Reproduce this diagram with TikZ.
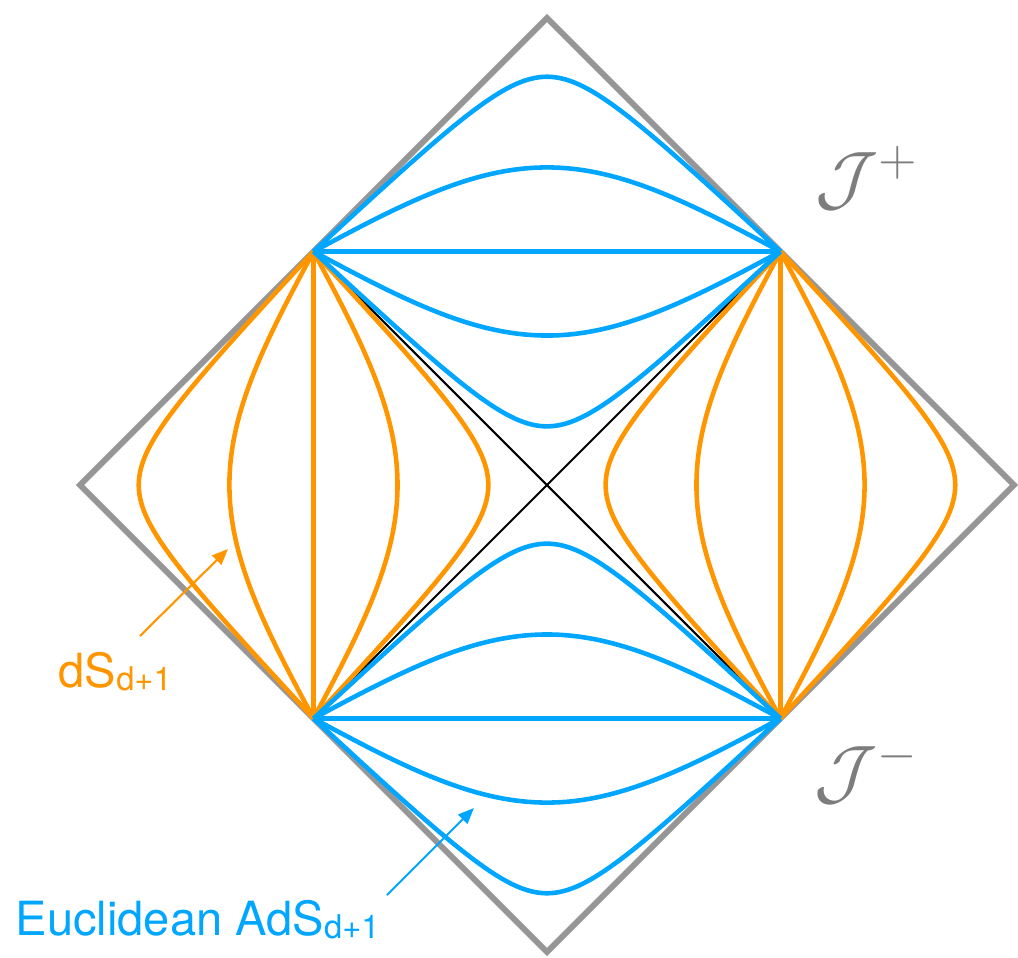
\documentclass[tikz,border=0pt]{standalone}
\usepackage{fontspec}
\usetikzlibrary{arrows.meta}
\newfontfamily\labelfont{TeX Gyre Heros}
\definecolor{bgray}{RGB}{150,150,150}
\definecolor{jgray}{RGB}{125,125,125}
\definecolor{adsblue}{RGB}{0,166,255}
\definecolor{dsorange}{RGB}{255,150,0}
\begin{document}
\begin{tikzpicture}[>={Triangle[length=1.6mm,width=1.3mm]},
    bdry/.style={draw=bgray,line width=1.7pt},
    ads/.style={draw=adsblue,line width=1.3pt},
    ds/.style={draw=dsorange,line width=1.3pt},
    scri/.style={text=jgray,font=\fontsize{22}{26}\selectfont},
    lbl/.style={anchor=base west,inner sep=0pt,font=\labelfont\fontsize{13.4}{16}\selectfont}]
    \useasboundingbox (-5.47,-4.72) rectangle (4.71,4.85);
    \coordinate (top) at (0,4.67);
    \coordinate (left) at (-4.67,0);
    \coordinate (right) at (4.67,0);
    \coordinate (bot) at (0,-4.67);
    \coordinate (ul) at (-2.335,2.335);
    \coordinate (ur) at (2.335,2.335);
    \coordinate (ll) at (-2.335,-2.335);
    \coordinate (lr) at (2.335,-2.335);
    \draw[bdry] (top) -- (right) -- (bot) -- (left) -- cycle;
    \draw[line width=0.6pt] (ul) -- (lr);
    \draw[line width=0.6pt] (ur) -- (ll);
    \foreach \k in {0.2,0.55,1,1.82,5} {
        \draw[ds] plot[domain=0:90,samples=181,variable=\u]
            ({-0.025944*(atan2(\k*sin(\u),cos(\u))+atan2(\k*cos(\u),sin(\u)))},
             {0.025944*(atan2(\k*sin(\u),cos(\u))-atan2(\k*cos(\u),sin(\u)))});
        \draw[ds] plot[domain=0:90,samples=181,variable=\u]
            ({0.025944*(atan2(\k*sin(\u),cos(\u))+atan2(\k*cos(\u),sin(\u)))},
             {0.025944*(atan2(\k*sin(\u),cos(\u))-atan2(\k*cos(\u),sin(\u)))});
    }
    \foreach \k in {0.2,0.55,1,1.82,5} {
        \draw[ads] plot[domain=0:90,samples=181,variable=\u]
            ({0.025944*(atan2(\k*sin(\u),cos(\u))-atan2(\k*cos(\u),sin(\u)))},
             {0.025944*(atan2(\k*sin(\u),cos(\u))+atan2(\k*cos(\u),sin(\u)))});
        \draw[ads] plot[domain=0:90,samples=181,variable=\u]
            ({0.025944*(atan2(\k*sin(\u),cos(\u))-atan2(\k*cos(\u),sin(\u)))},
             {-0.025944*(atan2(\k*sin(\u),cos(\u))+atan2(\k*cos(\u),sin(\u)))});
    }
    \node[scri] (jplus) at (3.20,3.07) {$\mathcal{J}^+$};
    \node[scri] (jminus) at (3.20,-2.87) {$\mathcal{J}^-$};
    \node[lbl,text=dsorange] (dslabel) at (-4.89,-2.02)
        {dS\raisebox{-0.03cm}{\fontsize{9.3}{11}\selectfont d+1}};
    \node[lbl,text=adsblue] (adslabel) at (-5.32,-4.50)
        {Euclidean AdS\raisebox{-0.03cm}{\fontsize{9.3}{11}\selectfont d+1}};
    \coordinate (dstail) at (-4.07,-1.51);
    \coordinate (dstip) at (-3.19,-0.64);
    \coordinate (adstail) at (-1.60,-4.10);
    \coordinate (adstip) at (-0.73,-3.23);
    \draw[->,dsorange,line width=0.6pt] (dstail) -- (dstip);
    \draw[->,adsblue,line width=0.6pt] (adstail) -- (adstip);
\end{tikzpicture}
\end{document}
